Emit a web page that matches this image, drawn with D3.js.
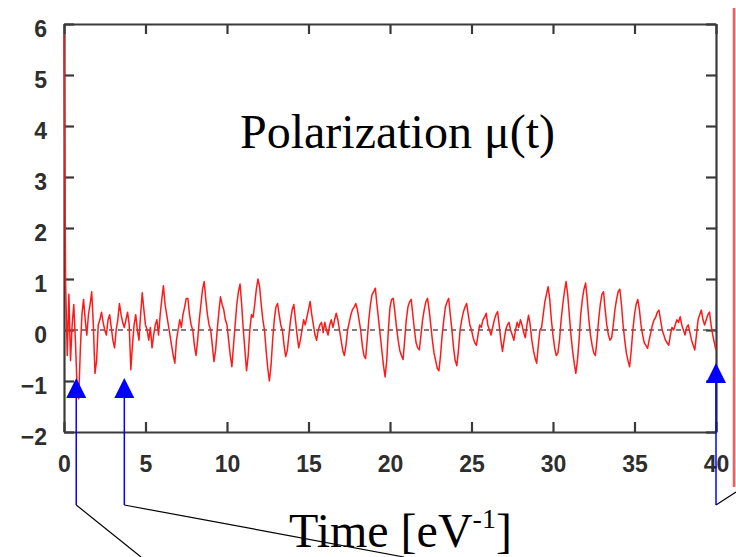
<!DOCTYPE html>
<html>
<head>
<meta charset="utf-8">
<script src="https://cdn.jsdelivr.net/npm/d3@7"></script>
<style>
body { margin: 0; background: #fff; }
svg { display: block; }
</style>
</head>
<body>
<div id="chart"></div>
<script>
// polarization mu(t), one value every 0.1 time units from t = 0 to t = 40
var tStep = 0.1;
var polarization = [
  5.8, 0.9, -0.5, 0.7, -0.6, 0.1, 0.5, -0.2, -1.1, -1.35,
  -0.4, 0.3, 0.6, 0.2, -0.1, 0.3, 0.5, 0.75, 0.1, -0.85,
  -0.6, 0.1, 0.2, 0.35, 0.15, 0.0, -0.1, 0.2, 0.3, 0.05,
  -0.2, -0.35, 0.0, 0.2, 0.52, 0.3, 0.15, 0.05, 0.2, 0.35,
  0.1, -0.78, -0.3, 0.1, 0.3, 0.0, -0.2, 0.3, 0.73, 0.4,
  0.1, 0.0, -0.2, 0.05, -0.35, -0.1, 0.1, 0.2, -0.1, 0.3,
  0.6, 0.87, 0.5, 0.3, 0.1, -0.1, -0.3, -0.5, -0.65, -0.2,
  0.0, 0.2, 0.05, 0.3, 0.45, 0.62, 0.62, 0.3, 0.1, 0.0,
  -0.3, -0.5, -0.2, 0.2, 0.5, 0.8, 0.95, 0.6, 0.3, 0.1,
  0.0, -0.3, -0.62, -0.4, 0.0, 0.35, 0.65, 0.5, 0.4, 0.2,
  0.1, -0.2, -0.5, -0.72, -0.3, 0.1, 0.5, 0.75, 0.9, 0.5,
  0.0, -0.4, -0.8, -0.5, 0.0, 0.3, 0.25, 0.5, 0.8, 1.0,
  0.85, 0.5, 0.2, 0.0, -0.4, -0.75, -1.0, -0.7, -0.2, 0.2,
  0.45, 0.52, 0.3, 0.1, 0.0, -0.3, -0.52, -0.4, -0.1, 0.2,
  0.4, 0.5, 0.2, -0.1, -0.35, -0.2, 0.0, 0.2, 0.1, 0.25,
  0.4, 0.56, 0.3, 0.1, -0.1, -0.2, 0.0, 0.1, 0.15, -0.05,
  0.15, 0.0, -0.1, 0.1, 0.2, 0.05, 0.2, 0.33, 0.2, 0.0,
  -0.2, -0.4, -0.5, -0.3, 0.0, 0.15, 0.3, 0.4, 0.45, 0.52,
  0.4, 0.2, 0.0, -0.3, -0.5, -0.56, -0.2, 0.2, 0.5, 0.7,
  0.75, 0.82, 0.5, 0.2, -0.1, -0.4, -0.7, -0.92, -0.6, 0.0,
  0.45, 0.6, 0.62, 0.35, 0.05, -0.2, -0.4, -0.5, -0.58, -0.2,
  0.2, 0.45, 0.55, 0.6, 0.3, 0.0, -0.25, -0.35, -0.39, -0.1,
  0.2, 0.4, 0.55, 0.62, 0.4, 0.1, -0.2, -0.45, -0.6, -0.75,
  -0.8, -0.5, -0.1, 0.2, 0.45, 0.55, 0.62, 0.3, 0.0, -0.35,
  -0.6, -0.7, -0.4, 0.0, 0.2, 0.35, 0.45, 0.52, 0.3, 0.1,
  0.0, -0.15, -0.25, -0.3, -0.1, 0.1, 0.05, 0.2, 0.25, 0.33,
  0.1, 0.0, -0.1, 0.05, 0.2, 0.3, 0.36, 0.1, -0.2, -0.42,
  -0.2, 0.0, 0.1, 0.15, 0.0, -0.1, -0.2, 0.0, 0.15, 0.05,
  0.2, 0.1, -0.05, -0.15, 0.1, 0.29, 0.1, -0.2, -0.4, -0.55,
  -0.65, -0.3, 0.0, 0.05, 0.3, 0.55, 0.7, 0.85, 0.6, 0.2,
  -0.1, -0.35, -0.5, -0.45, -0.2, 0.2, 0.5, 0.75, 0.95, 0.7,
  0.3, -0.1, -0.4, -0.65, -0.85, -0.6, -0.2, 0.3, 0.6, 0.8,
  0.92, 0.6, 0.2, -0.1, -0.3, -0.45, -0.5, -0.2, 0.2, 0.5,
  0.7, 0.75, 0.4, 0.1, -0.1, -0.2, -0.15, 0.1, 0.4, 0.6,
  0.75, 0.8, 0.5, 0.1, -0.2, -0.45, -0.6, -0.72, -0.4, 0.0,
  0.3, 0.5, 0.6, 0.4, 0.1, -0.1, -0.25, -0.3, -0.36, -0.2,
  -0.05, 0.1, 0.2, 0.25, 0.35, 0.39, 0.2, 0.0, -0.1, -0.2,
  -0.25, -0.3, -0.1, 0.05, 0.0, 0.1, 0.2, 0.15, 0.26, 0.1,
  0.0, -0.1, 0.05, 0.1, -0.05, -0.2, -0.3, -0.39, -0.1, 0.2,
  0.3, 0.39, 0.2, 0.1, 0.2, 0.3, 0.35, 0.1, -0.1, -0.25,
  -0.4
];

var xTicks = [0, 5, 10, 15, 20, 25, 30, 35, 40];
var yTicks = [-2, -1, 0, 1, 2, 3, 4, 5, 6];

// times pointed at by the blue arrows
var arrowTimes = [0.75, 3.7, 40];

var W = 736, H = 557;
var margin = {left: 64, right: 20, top: 24, bottom: 125};

var svg = d3.select("#chart").append("svg")
    .attr("width", W)
    .attr("height", H);

var x = d3.scaleLinear().domain([0, 40]).range([margin.left, W - margin.right]);
var y = d3.scaleLinear().domain([-2, 6]).range([H - margin.bottom, margin.top]);

var axisColor = "#3a3a3a";

function styleAxis(g) {
    g.attr("font-size", null).attr("font-family", null);
    g.select(".domain").attr("stroke", axisColor).attr("stroke-width", 2.2);
    g.selectAll(".tick line").attr("stroke", axisColor).attr("stroke-width", 2.2);
    g.selectAll(".tick text")
        .attr("fill", "#2e2e2e")
        .style("font-family", "'Liberation Sans', Arial, sans-serif")
        .style("font-weight", "bold")
        .style("font-size", "23px");
}

svg.append("g")
    .attr("transform", "translate(0," + y(-2) + ")")
    .call(d3.axisBottom(x).tickValues(xTicks).tickSizeInner(-10).tickSizeOuter(0).tickPadding(24))
    .call(styleAxis);

svg.append("g")
    .attr("transform", "translate(0," + y(6) + ")")
    .call(d3.axisTop(x).tickValues(xTicks).tickSizeInner(-10).tickSizeOuter(0).tickFormat(""))
    .call(styleAxis);

var yAxisG = svg.append("g")
    .attr("transform", "translate(" + x(0) + ",0)")
    .call(d3.axisLeft(y).tickValues(yTicks).tickSizeInner(-10).tickSizeOuter(0).tickPadding(17))
    .call(styleAxis);
yAxisG.selectAll(".tick text").attr("dy", "0.56em");

svg.append("g")
    .attr("transform", "translate(" + x(40) + ",0)")
    .call(d3.axisRight(y).tickValues(yTicks).tickSizeInner(-10).tickSizeOuter(0).tickFormat(""))
    .call(styleAxis);

// zero line
svg.append("line")
    .attr("x1", x(0)).attr("x2", x(40))
    .attr("y1", y(0)).attr("y2", y(0))
    .attr("stroke", "#555")
    .attr("stroke-width", 1.3)
    .attr("stroke-dasharray", "5,4");

var line = d3.line()
    .x(function(d, i) { return x(i * tStep); })
    .y(function(d) { return y(d); });

svg.append("path")
    .datum(polarization)
    .attr("d", line)
    .attr("fill", "none")
    .attr("stroke", "#ff1a1a")
    .attr("stroke-width", 1.5)
    .attr("stroke-linejoin", "round");

// title inside the plot
svg.append("text")
    .attr("x", 240)
    .attr("y", 148)
    .style("font-family", "'Liberation Serif', 'Times New Roman', serif")
    .style("font-size", "48px")
    .attr("fill", "#000")
    .text("Polarization \u03bc(t)");

// red bar at the right edge
svg.append("line")
    .attr("x1", 734).attr("x2", 734)
    .attr("y1", 8).attr("y2", 487)
    .attr("stroke", "#ff5a5a")
    .attr("stroke-width", 2.5);

// leader lines (black) from the bottom of the blue arrows
var leaderEnds = [[141, 557], [404, 557], [736, 492]];
var arrowTipY = [378, 378, 363];
var arrowFootY = 505;

svg.selectAll(".leader")
    .data(arrowTimes)
    .enter().append("line")
    .attr("class", "leader")
    .attr("x1", function(d) { return x(d); })
    .attr("y1", arrowFootY)
    .attr("x2", function(d, i) { return leaderEnds[i][0]; })
    .attr("y2", function(d, i) { return leaderEnds[i][1]; })
    .attr("stroke", "#000")
    .attr("stroke-width", 1.2);

// x axis label
var xl = svg.append("text")
    .attr("x", 289)
    .attr("y", 547)
    .style("font-family", "'Liberation Serif', 'Times New Roman', serif")
    .style("font-size", "48px")
    .attr("fill", "#000");
xl.append("tspan").text("Time [eV");
xl.append("tspan").attr("dy", -19).style("font-size", "28px").text("-1");
xl.append("tspan").attr("dy", 19).text("]");

// blue arrows
svg.selectAll(".arrow-shaft")
    .data(arrowTimes)
    .enter().append("line")
    .attr("class", "arrow-shaft")
    .attr("x1", function(d) { return x(d); })
    .attr("x2", function(d) { return x(d); })
    .attr("y1", function(d, i) { return arrowTipY[i] + 15; })
    .attr("y2", arrowFootY)
    .attr("stroke", "#0000ff")
    .attr("stroke-width", 1.5);

svg.selectAll(".arrow-head")
    .data(arrowTimes)
    .enter().append("path")
    .attr("class", "arrow-head")
    .attr("d", function(d, i) {
        var cx = x(d), ty = arrowTipY[i];
        return "M" + cx + "," + ty + "L" + (cx + 10) + "," + (ty + 20) + "L" + (cx - 10) + "," + (ty + 20) + "Z";
    })
    .attr("fill", "#0000ff");
</script>
</body>
</html>
